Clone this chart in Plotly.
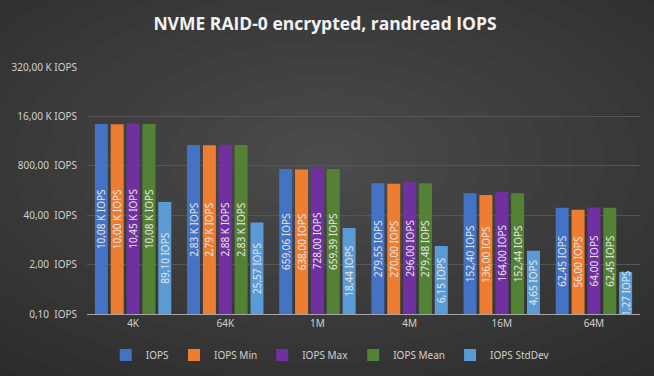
import plotly.graph_objects as go

categories = ["4K", "64K", "1M", "4M", "16M", "64M"]
iops = [10080, 2830, 659.06, 279.55, 152.40, 62.45]
iops_min = [10000, 2790, 638.00, 270.00, 136.00, 56.00]
iops_max = [10450, 2880, 728.00, 296.00, 164.00, 64.00]
iops_mean = [10080, 2830, 659.39, 279.48, 152.44, 62.45]
iops_std = [89.10, 25.57, 18.44, 6.15, 4.65, 1.27]

series_names = ["IOPS", "IOPS Min", "IOPS Max", "IOPS Mean", "IOPS StdDev"]
series_values = [iops, iops_min, iops_max, iops_mean, iops_std]
colors = ["#4472C4", "#ED7D31", "#7030A0", "#548235", "#5B9BD5"]

tick_values = [0.1, 2, 40, 800, 16000, 320000]


def fmt(v, tick=False):
    sep = "\u00a0\u00a0" if tick else " "
    if v >= 1000:
        return f"{v/1000:.2f}".replace(".", ",") + " K IOPS"
    return f"{v:.2f}".replace(".", ",") + sep + "IOPS"


fig = go.Figure()
for name, vals, col in zip(series_names, series_values, colors):
    fig.add_trace(go.Bar(
        name=name, x=categories, y=vals,
        marker=dict(color=col, line=dict(width=0)),
        text=[fmt(v) for v in vals],
        textposition="inside", insidetextanchor="middle",
        textangle=-90, constraintext="none",
        textfont=dict(family="Noto Sans", size=10, color="#e6e6e6"),
        cliponaxis=False,
    ))

shapes = []
n = 16
for i in range(n):
    f = 1 - i / n
    shapes.append(dict(
        type="circle", xref="paper", yref="paper", layer="below",
        x0=0.43 - 0.9 * f, x1=0.43 + 0.9 * f,
        y0=0.62 - 1.1 * f, y1=0.62 + 1.1 * f,
        fillcolor="#ffffff", opacity=0.012, line=dict(width=0),
    ))

fig.update_layout(
    width=654, height=376,
    margin=dict(l=87, r=14, t=67, b=62, autoexpand=False),
    paper_bgcolor="#2b2b2b",
    plot_bgcolor="rgba(0,0,0,0)",
    shapes=shapes,
    title=dict(text="<b>NVME RAID-0 encrypted, randread IOPS</b>",
               x=0.497, xref="container", xanchor="center", y=1 - 24 / 376, yanchor="middle",
               font=dict(family="Open Sans", size=17.5, color="#f2f2f2")),
    barmode="group", bargap=0.14, bargroupgap=0.18,
    showlegend=True,
    legend=dict(orientation="h", x=0.505, xanchor="center", xref="container",
                y=21 / 376, yref="container", yanchor="middle",
                font=dict(family="Noto Sans", size=10, color="#d0d0d0"),
                itemwidth=30, traceorder="normal",
                bgcolor="rgba(0,0,0,0)"),
    font=dict(family="Noto Sans", color="#d0d0d0"),
)
fig.update_xaxes(
    showgrid=False, showline=True, linecolor="#a6a6a6", linewidth=1,
    ticks="", tickfont=dict(family="Noto Sans", size=10, color="#d0d0d0"),
)
fig.update_yaxes(
    type="log", range=[-1, 5.50515], tickmode="array",
    tickvals=tick_values, ticktext=[fmt(v, tick=True) for v in tick_values],
    showgrid=True, gridcolor="#555555", gridwidth=1,
    zeroline=False, showline=False,
    tickfont=dict(family="Noto Sans", size=10, color="#d0d0d0"),
    ticks="", ticklabelstandoff=9,
)
fig.write_html("out.html", config={"displayModeBar": False},
               post_script="document.body.style.margin='0';document.body.style.overflow='hidden';")
